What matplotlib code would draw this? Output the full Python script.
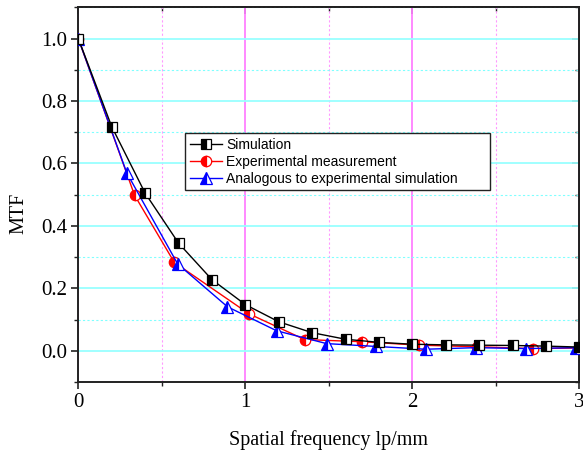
import numpy as np
import matplotlib
matplotlib.use("Agg")
import matplotlib.pyplot as plt
from matplotlib.ticker import MultipleLocator

# --- Data ---
sim_x = [0.0, 0.2, 0.4, 0.6, 0.8, 1.0, 1.2, 1.4, 1.6, 1.8, 2.0, 2.2, 2.4, 2.6, 2.8, 3.0]
sim_y = [1.0, 0.718, 0.505, 0.345, 0.228, 0.148, 0.093, 0.058, 0.037, 0.027, 0.021,
         0.019, 0.018, 0.017, 0.015, 0.012]

exp_x = [0.0, 0.337, 0.575, 1.02, 1.355, 1.70, 2.04, 2.39, 2.72, 3.0]
exp_y = [1.0, 0.498, 0.283, 0.119, 0.036, 0.029, 0.018, 0.013, 0.007, 0.009]

ana_x = [0.0, 0.29, 0.595, 0.893, 1.188, 1.487, 1.78, 2.08, 2.38, 2.68, 2.98]
ana_y = [1.0, 0.570, 0.278, 0.141, 0.064, 0.023, 0.014, 0.005, 0.010, 0.007, 0.010]

labels = ["Simulation", "Experimental measurement", "Analogous to experimental simulation"]

serif = ["Liberation Serif", "DejaVu Serif"]
sans = ["Liberation Sans", "DejaVu Sans"]

fig = plt.figure(figsize=(5.83, 4.55), dpi=100)
ax = fig.add_axes([0.1343, 0.1604, 0.8594, 0.8236])

# --- Grid ---
ax.xaxis.set_major_locator(MultipleLocator(1))
ax.xaxis.set_minor_locator(MultipleLocator(0.5))
ax.yaxis.set_major_locator(MultipleLocator(0.2))
ax.yaxis.set_minor_locator(MultipleLocator(0.1))

ax.grid(axis='x', which='major', color='#ff80ff', linestyle='-', linewidth=1.3, zorder=0)
ax.grid(axis='x', which='minor', color='#ff99ff', linestyle=(0, (2, 2)), linewidth=0.8, zorder=0)
ax.grid(axis='y', which='major', color='#99ffff', linestyle='-', linewidth=1.3, zorder=0)
ax.grid(axis='y', which='minor', color='#80ffff', linestyle=(0, (2, 2)), linewidth=0.8, zorder=0)
ax.set_axisbelow(True)

# --- Curves ---
ax.plot(sim_x, sim_y, color='black', linewidth=1.0, marker='s', markersize=7,
        fillstyle='left', markerfacecolor='black', markerfacecoloralt='white',
        markeredgecolor='black', markeredgewidth=0.9, label=labels[0], zorder=4)
ax.plot(exp_x, exp_y, color='red', linewidth=1.0, marker='o', markersize=7.5,
        fillstyle='left', markerfacecolor='red', markerfacecoloralt='white',
        markeredgecolor='red', markeredgewidth=0.9, label=labels[1], zorder=3)
ax.plot(ana_x, ana_y, color='blue', linewidth=1.0, marker='^', markersize=8,
        fillstyle='left', markerfacecolor='blue', markerfacecoloralt='white',
        markeredgecolor='blue', markeredgewidth=0.9, label=labels[2], zorder=3)

ax.set_xlim(0, 3)
ax.set_ylim(-0.1, 1.1)

# --- Spines and ticks ---
for spine in ax.spines.values():
    spine.set_linewidth(1.4)
    spine.set_color('#222222')

ax.tick_params(which='major', direction='out', length=5, width=1.2, color='#222222',
               labelsize=15, pad=3)
ax.tick_params(which='minor', direction='out', length=3, width=1.0, color='#222222')
ax.set_xticks([0, 1, 2, 3])
ax.set_xticklabels(['0', '1', '2', '3'])
ax.set_yticks([0.0, 0.2, 0.4, 0.6, 0.8, 1.0])
ax.set_yticklabels(['0.0', '0.2', '0.4', '0.6', '0.8', '1.0'])
for t in ax.get_xticklabels() + ax.get_yticklabels():
    t.set_fontfamily(serif)

top = ax.secondary_xaxis('top')
top.xaxis.set_major_locator(MultipleLocator(1))
top.xaxis.set_minor_locator(MultipleLocator(0.5))
top.tick_params(which='major', direction='in', length=5, width=1.2, color='#222222', labeltop=False)
top.tick_params(which='minor', direction='in', length=3, width=1.0, color='#222222')
top.spines['top'].set_linewidth(1.4)

right = ax.secondary_yaxis('right')
right.yaxis.set_major_locator(MultipleLocator(0.2))
right.yaxis.set_minor_locator(MultipleLocator(0.1))
right.tick_params(which='major', direction='in', length=5, width=1.2, color='#222222', labelright=False)
right.tick_params(which='minor', direction='in', length=3, width=1.0, color='#222222')
right.spines['right'].set_linewidth(1.4)

ax.set_xlabel("Spatial frequency lp/mm", fontsize=14.5, family=serif, labelpad=13)
ax.set_ylabel("MTF", fontsize=14.5, family=serif)
ax.yaxis.set_label_coords(-0.1, 0.45)

# --- Legend ---
leg = ax.legend(loc='upper left', bbox_to_anchor=(0.213, 0.508, 0.609, 0.156),
                mode='expand', prop={'family': sans, 'size': 10}, frameon=True,
                fancybox=False, framealpha=1, edgecolor='#222222',
                handlelength=2.3, handletextpad=0.3, labelspacing=0.2,
                borderpad=0.35, borderaxespad=0)
leg.get_frame().set_linewidth(1.0)

plt.savefig("out.png", dpi=100)
